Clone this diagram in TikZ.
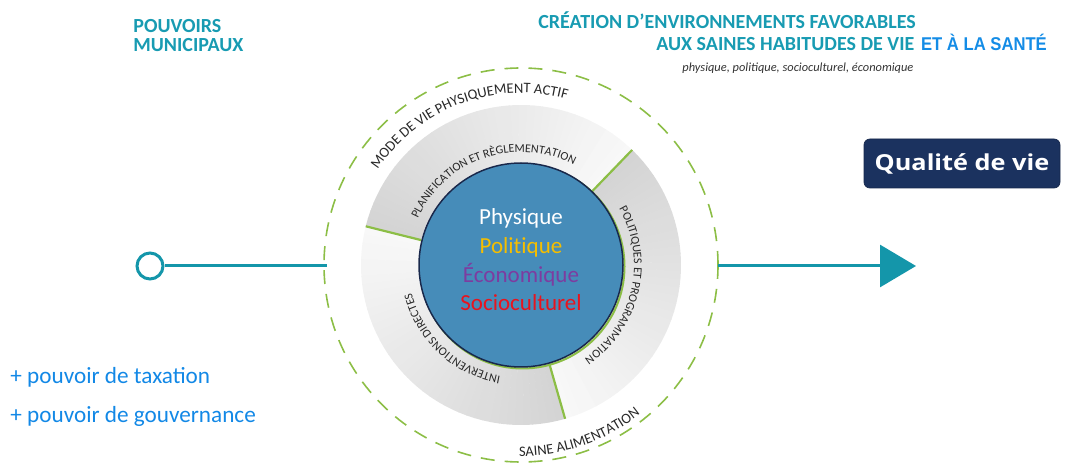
\documentclass[tikz,border=0pt]{standalone}
\usepackage{fontspec}
\setmainfont{Carlito}
\newfontfamily\corefont{Carlito}[Ligatures=NoCommon]
\newfontfamily\santefont{Liberation Sans}[FakeStretch=0.9]
\newfontfamily\qualfont{Open Sans}[FakeStretch=1.15]
\usetikzlibrary{decorations.text,arrows.meta,positioning}

\definecolor{titleteal}{RGB}{24,155,178}
\definecolor{santeblue}{RGB}{20,140,230}
\definecolor{plusblue}{RGB}{18,136,230}
\definecolor{linkteal}{RGB}{20,150,170}
\definecolor{coreblue}{RGB}{70,140,185}
\definecolor{corenavy}{RGB}{25,40,75}
\definecolor{ringgreen}{RGB}{140,190,70}
\definecolor{qualnavy}{RGB}{27,50,95}
\definecolor{polgold}{RGB}{245,190,0}
\definecolor{ecopurple}{RGB}{125,60,160}
\definecolor{socred}{RGB}{232,20,30}
\definecolor{ringdark}{RGB}{212,212,212}
\definecolor{ringlight}{RGB}{248,248,248}
\definecolor{ringtext}{RGB}{40,40,40}

\newcommand\innerarcfont{\fontsize{12}{12}\selectfont\color{ringtext}}
\newcommand\outerarcfont{\fontsize{14.5}{14.5}\selectfont\color{ringtext}}

\tikzset{every picture/.style={line width=0.75pt}}
\tikzset{
  titletxt/.style={anchor=base west, inner sep=0pt, text=titleteal, font=\fontsize{20}{20}\selectfont\bfseries},
  plustxt/.style={anchor=base west, inner sep=0pt, text=plusblue, font=\fontsize{23.2}{23.2}\selectfont},
  coretxt/.style={anchor=base, inner sep=0pt, font=\fontsize{23}{23}\selectfont\corefont},
  linkline/.style={draw=linkteal, line width=3pt},
}

\begin{document}
\begin{tikzpicture}[x=1pt,y=1pt]
	\useasboundingbox (0,0) rectangle (1066,463);
	\coordinate (C) at (521,198);

	% Ring sectors
	\foreach \s in {46,166,286}{
		\foreach \i in {0,...,39}{
			\pgfmathtruncatemacro\p{\i*100/39}
			\pgfmathsetmacro\a{\s+3*\i}
			\pgfmathsetmacro\b{\a+3.2}
			\fill[ringdark!\p!ringlight] ([shift={(\a:103)}]C) arc[start angle=\a, end angle=\b, radius=103] -- ([shift={(\b:160)}]C) arc[start angle=\b, end angle=\a, radius=160] -- cycle;
		}
	}
	% Sector dividers
	\foreach \a in {46,166,286}
		\draw[ringgreen, line width=2.2pt] ([shift={(\a:103)}]C) -- ([shift={(\a:160)}]C);

	% Dashed circle
	\draw[ringgreen, line width=1.6pt, dash pattern=on 14pt off 10pt] (C) circle[radius=197];

	% Core circle
	\draw[ringgreen, line width=2pt] ([shift={(1.5,-1.5)}]C) circle[radius=102];
	\node[circle, fill=coreblue, draw=corenavy, line width=1.5pt, minimum size=204pt] (core) at (C) {};

	% Text Node
	\node[coretxt, text=white] (phys) at (521,238) {Physique};
	\node[coretxt, text=polgold] (poli) at (521,209) {Politique};
	\node[coretxt, text=ecopurple] (econ) at (521,180) {Économique};
	\node[coretxt, text=socred] (socio) at (521,152) {Socioculturel};

	% Arc labels
	\path[decorate, decoration={text along path, text align=center, text={|\innerarcfont|PLANIFICATION ET RÈGLEMENTATION}}]
		([shift={(160:113)}]C) arc[start angle=160, end angle=58, radius=113];
	\path[decorate, decoration={text along path, text align=center, text={|\innerarcfont|POLITIQUES ET PROGRAMMATION}}]
		([shift={(40:113)}]C) arc[start angle=40, end angle=-66, radius=113];
	\path[decorate, decoration={text along path, text align=center, text={|\innerarcfont|INTERVENTIONS DIRECTES}}]
		([shift={(-85:113)}]C) arc[start angle=-85, end angle=-181, radius=113];
	\path[decorate, decoration={text along path, text align=center, text={|\outerarcfont|MODE DE VIE PHYSIQUEMENT ACTIF}}]
		([shift={(165:172)}]C) arc[start angle=165, end angle=56, radius=172];
	\path[decorate, decoration={text along path, text align=center, text={|\outerarcfont|SAINE ALIMENTATION}}]
		([shift={(250:191)}]C) arc[start angle=250, end angle=328, radius=191];

	% Connectors
	\node[circle, draw=linkteal, line width=3pt, fill=white, minimum size=26pt, inner sep=0pt] (origin) at (150,197) {};
	\coordinate (lend) at (327,197);
	\draw[linkline] (origin) -- (lend);
	\coordinate (rstart) at (718,197);
	\coordinate (rend) at (916,197);
	\draw[linkline, -{Triangle[length=36pt, width=42pt]}] (rstart) -- (rend);

	% Qualite de vie
	\node[fill=qualnavy, draw=qualnavy!80!black, rounded corners=6pt, minimum width=196pt, minimum height=49pt, text=white, font=\fontsize{22}{22}\selectfont\qualfont\bfseries] (qual) at (962,299.5) {Qualité de vie};

	% Titles
	\node[titletxt] (pouv) at (133,430) {POUVOIRS};
	\node[titletxt] (muni) at (133,411) {MUNICIPAUX};
	\node[titletxt] (crea) at (538,434) {CRÉATION D’ENVIRONNEMENTS FAVORABLES};
	\node[titletxt] (aux) at (656,412) {AUX SAINES HABITUDES DE VIE};
	\node[anchor=base west, inner sep=0pt, text=santeblue, font=\fontsize{18.5}{18.5}\selectfont\santefont\bfseries] (sante) at ([xshift=6pt]aux.base east) {ET À LA SANTÉ};
	\node[anchor=base west, inner sep=0pt, text=black!80, font=\fontsize{12.4}{12.4}\selectfont\itshape] (dims) at (682,391) {physique, politique, socioculturel, économique};

	% Plus labels
	\node[plustxt] (tax) at (10,79) {+ pouvoir de taxation};
	\node[plustxt] (gouv) at (10,40) {+ pouvoir de gouvernance};

\end{tikzpicture}
\end{document}
